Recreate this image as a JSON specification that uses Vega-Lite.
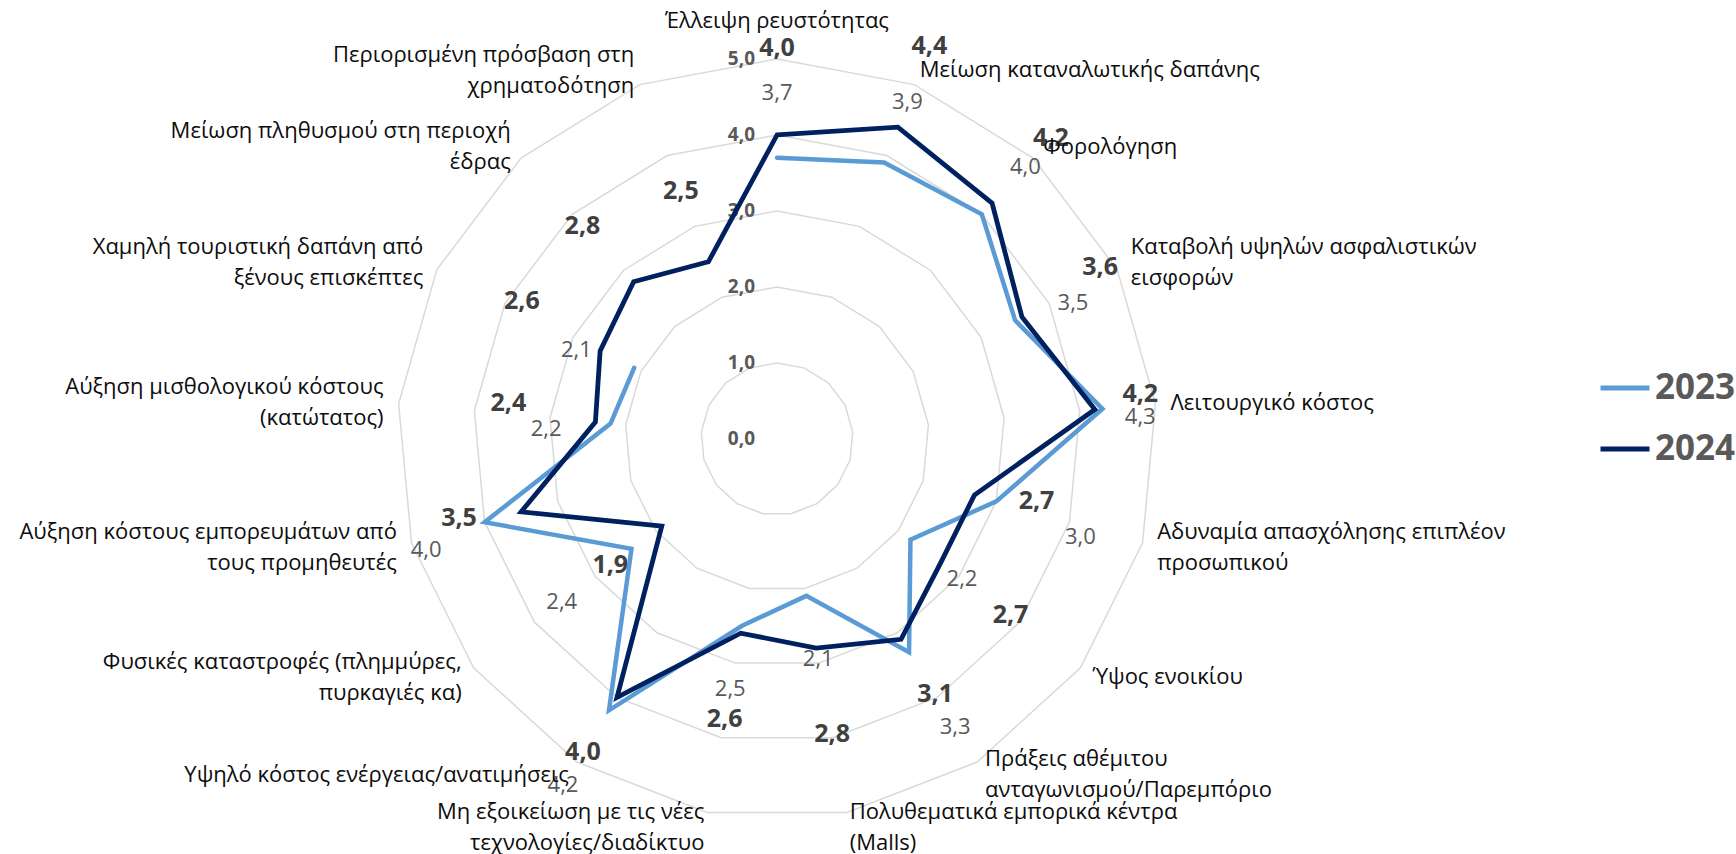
{
  "$schema": "https://vega.github.io/schema/vega-lite/v6.json",
  "width": 1736,
  "height": 854,
  "autosize": "none",
  "padding": 0,
  "background": "white",
  "config": {
    "view": {"stroke": null},
    "font": "Open Sans",
    "locale": {"number": {"decimal": ",", "thousands": ".", "grouping": [3], "currency": ["", " €"]}}
  },
  "datasets": {
    "survey": [
      {"i": 0, "cat": "Έλλειψη ρευστότητας", "v2023": 3.7, "v2024": 4.0},
      {"i": 1, "cat": "Μείωση καταναλωτικής δαπάνης", "v2023": 3.9, "v2024": 4.4},
      {"i": 2, "cat": "Φορολόγηση", "v2023": 4.0, "v2024": 4.2},
      {"i": 3, "cat": "Καταβολή υψηλών ασφαλιστικών\nεισφορών", "v2023": 3.5, "v2024": 3.6},
      {"i": 4, "cat": "Λειτουργικό κόστος", "v2023": 4.3, "v2024": 4.2},
      {"i": 5, "cat": "Αδυναμία απασχόλησης επιπλέον\nπροσωπικού", "v2023": 3.0, "v2024": 2.7},
      {"i": 6, "cat": "Ύψος ενοικίου", "v2023": 2.2, "v2024": 2.7},
      {"i": 7, "cat": "Πράξεις αθέμιτου\nανταγωνισμού/Παρεμπόριο", "v2023": 3.3, "v2024": 3.1},
      {"i": 8, "cat": "Πολυθεματικά εμπορικά κέντρα\n(Malls)", "v2023": 2.1, "v2024": 2.8},
      {"i": 9, "cat": "Μη εξοικείωση με τις νέες\nτεχνολογίες/διαδίκτυο", "v2023": 2.5, "v2024": 2.6},
      {"i": 10, "cat": "Υψηλό κόστος ενέργειας/ανατιμήσεις", "v2023": 4.2, "v2024": 4.0},
      {"i": 11, "cat": "Φυσικές καταστροφές (πλημμύρες,\nπυρκαγιές κα)", "v2023": 2.4, "v2024": 1.9},
      {"i": 12, "cat": "Αύξηση κόστους εμπορευμάτων από\nτους προμηθευτές", "v2023": 4.0, "v2024": 3.5},
      {"i": 13, "cat": "Αύξηση μισθολογικού κόστους\n(κατώτατος)", "v2023": 2.2, "v2024": 2.4},
      {"i": 14, "cat": "Χαμηλή τουριστική δαπάνη από\nξένους επισκέπτες", "v2023": 2.1, "v2024": 2.6},
      {"i": 15, "cat": "Μείωση πληθυσμού στη περιοχή\nέδρας", "v2023": null, "v2024": 2.8},
      {"i": 16, "cat": "Περιορισμένη πρόσβαση στη\nχρηματοδότηση", "v2023": null, "v2024": 2.5}
    ],
    "grid": [
      {"level": 1, "i": [0,1,2,3,4,5,6,7,8,9,10,11,12,13,14,15,16]},
      {"level": 2, "i": [0,1,2,3,4,5,6,7,8,9,10,11,12,13,14,15,16]},
      {"level": 3, "i": [0,1,2,3,4,5,6,7,8,9,10,11,12,13,14,15,16]},
      {"level": 4, "i": [0,1,2,3,4,5,6,7,8,9,10,11,12,13,14,15,16]},
      {"level": 5, "i": [0,1,2,3,4,5,6,7,8,9,10,11,12,13,14,15,16]}
    ],
    "levels": [
      {"level": 0}, {"level": 1}, {"level": 2}, {"level": 3}, {"level": 4}, {"level": 5}
    ]
  },
  "layer": [
    {
      "data": {"name": "grid"},
      "transform": [
        {"flatten": ["i"]},
        {"calculate": "datum.i * 2 * PI / 17", "as": "a"},
        {"calculate": "datum.level * sin(datum.a)", "as": "px"},
        {"calculate": "datum.level * cos(datum.a)", "as": "py"}
      ],
      "mark": {"type": "line", "interpolate": "linear-closed", "stroke": "#D9D9D9", "strokeWidth": 1.5},
      "encoding": {
        "x": {"field": "px", "type": "quantitative", "scale": {"domain": [-10.224, 12.618], "nice": false, "zero": false}, "axis": null},
        "y": {"field": "py", "type": "quantitative", "scale": {"domain": [-5.461, 5.776], "nice": false, "zero": false}, "axis": null},
        "detail": {"field": "level", "type": "nominal"},
        "order": {"field": "i", "type": "quantitative"}
      }
    },
    {
      "data": {"name": "levels"},
      "mark": {"type": "text", "align": "right", "baseline": "middle", "dx": -22, "fontSize": 19, "fontWeight": "bold", "fill": "#595959"},
      "encoding": {
        "x": {"datum": 0, "type": "quantitative", "scale": {"domain": [-10.224, 12.618], "nice": false, "zero": false}, "axis": null},
        "y": {"field": "level", "type": "quantitative", "scale": {"domain": [-5.461, 5.776], "nice": false, "zero": false}, "axis": null},
        "text": {"field": "level", "type": "quantitative", "format": ".1f"}
      }
    },
    {
      "data": {"name": "survey"},
      "transform": [
        {"filter": "isValid(datum.v2023)"},
        {"calculate": "datum.i * 2 * PI / 17", "as": "a"},
        {"calculate": "datum.v2023 * sin(datum.a)", "as": "px"},
        {"calculate": "datum.v2023 * cos(datum.a)", "as": "py"}
      ],
      "mark": {"type": "line", "strokeWidth": 4.5, "strokeCap": "round", "interpolate": "linear"},
      "encoding": {
        "x": {"field": "px", "type": "quantitative", "scale": {"domain": [-10.224, 12.618], "nice": false, "zero": false}, "axis": null},
        "y": {"field": "py", "type": "quantitative", "scale": {"domain": [-5.461, 5.776], "nice": false, "zero": false}, "axis": null},
        "order": {"field": "i", "type": "quantitative"},
        "color": {
          "datum": "2023", "type": "nominal",
          "scale": {"domain": ["2023", "2024"], "range": ["#5B9BD5", "#002060"]},
          "legend": {
            "orient": "none", "legendX": 1598, "legendY": 361, "title": null, "padding": 0,
            "symbolType": "stroke", "symbolSize": 2400, "symbolStrokeWidth": 5,
            "labelFontSize": 35, "labelFontWeight": "bold", "labelColor": "#595959", "labelFont": "Open Sans",
            "labelOffset": 3, "rowPadding": 16
          }
        }
      }
    },
    {
      "data": {"name": "survey"},
      "transform": [
        {"calculate": "datum.i * 2 * PI / 17", "as": "a"},
        {"calculate": "datum.v2024 * sin(datum.a)", "as": "px"},
        {"calculate": "datum.v2024 * cos(datum.a)", "as": "py"}
      ],
      "mark": {"type": "line", "strokeWidth": 4.8, "interpolate": "linear-closed"},
      "encoding": {
        "x": {"field": "px", "type": "quantitative", "scale": {"domain": [-10.224, 12.618], "nice": false, "zero": false}, "axis": null},
        "y": {"field": "py", "type": "quantitative", "scale": {"domain": [-5.461, 5.776], "nice": false, "zero": false}, "axis": null},
        "order": {"field": "i", "type": "quantitative"},
        "color": {"datum": "2024", "type": "nominal"}
      }
    },
    {
      "data": {"name": "survey"},
      "transform": [
        {"filter": "isValid(datum.v2023)"},
        {"calculate": "datum.i * 2 * PI / 17", "as": "a"},
        {"calculate": "abs(cos(datum.a)) < 0.5", "as": "h"},
        {"calculate": "datum.v2023 + 1 + (datum.v2023 > datum.v2024 ? 0.15 : -0.15)", "as": "r0"},
        {"calculate": "datum.h ? min(datum.r0, 4.8) : datum.r0", "as": "r"},
        {"calculate": "datum.r * sin(datum.a)", "as": "px"},
        {"calculate": "datum.r * cos(datum.a) - (datum.h ? 0.15 : 0)", "as": "py"}
      ],
      "mark": {"type": "text", "align": "center", "baseline": "middle", "fontSize": 22, "fill": "#595959"},
      "encoding": {
        "x": {"field": "px", "type": "quantitative", "scale": {"domain": [-10.224, 12.618], "nice": false, "zero": false}, "axis": null},
        "y": {"field": "py", "type": "quantitative", "scale": {"domain": [-5.461, 5.776], "nice": false, "zero": false}, "axis": null},
        "text": {"field": "v2023", "type": "quantitative", "format": ".1f"}
      }
    },
    {
      "data": {"name": "survey"},
      "transform": [
        {"calculate": "datum.i * 2 * PI / 17", "as": "a"},
        {"calculate": "abs(cos(datum.a)) < 0.5", "as": "h"},
        {"calculate": "datum.v2024 + 1 + (isValid(datum.v2023) ? (datum.v2024 > datum.v2023 ? 0.15 : -0.15) : 0)", "as": "r0"},
        {"calculate": "datum.h ? min(datum.r0, 4.8) : datum.r0", "as": "r"},
        {"calculate": "datum.r * sin(datum.a)", "as": "px"},
        {"calculate": "datum.r * cos(datum.a) + (datum.h ? 0.15 : 0)", "as": "py"}
      ],
      "mark": {"type": "text", "align": "center", "baseline": "middle", "fontSize": 25, "fontWeight": "bold", "fill": "#404040"},
      "encoding": {
        "x": {"field": "px", "type": "quantitative", "scale": {"domain": [-10.224, 12.618], "nice": false, "zero": false}, "axis": null},
        "y": {"field": "py", "type": "quantitative", "scale": {"domain": [-5.461, 5.776], "nice": false, "zero": false}, "axis": null},
        "text": {"field": "v2024", "type": "quantitative", "format": ".1f"}
      }
    },
    {
      "data": {"name": "survey"},
      "transform": [
        {"filter": "datum.i == 0"},
        {"calculate": "datum.i * 2 * PI / 17", "as": "a"},
        {"calculate": "5.5 * sin(datum.a)", "as": "px"},
        {"calculate": "5.5 * cos(datum.a)", "as": "py"}
      ],
      "mark": {"type": "text", "align": "center", "baseline": "middle", "fontSize": 22, "fill": "#0D0D0D", "lineBreak": "\n", "lineHeight": 31},
      "encoding": {
        "x": {"field": "px", "type": "quantitative", "scale": {"domain": [-10.224, 12.618], "nice": false, "zero": false}, "axis": null},
        "y": {"field": "py", "type": "quantitative", "scale": {"domain": [-5.461, 5.776], "nice": false, "zero": false}, "axis": null},
        "text": {"field": "cat", "type": "nominal"}
      }
    },
    {
      "data": {"name": "survey"},
      "transform": [
        {"filter": "datum.i >= 1 && datum.i <= 8"},
        {"calculate": "datum.i * 2 * PI / 17", "as": "a"},
        {"calculate": "5.2 * sin(datum.a)", "as": "px"},
        {"calculate": "5.2 * cos(datum.a) + (indexof(datum.cat, '\\n') >= 0 ? 0.204 : 0)", "as": "py"}
      ],
      "mark": {"type": "text", "align": "left", "baseline": "middle", "fontSize": 22, "fill": "#0D0D0D", "lineBreak": "\n", "lineHeight": 31},
      "encoding": {
        "x": {"field": "px", "type": "quantitative", "scale": {"domain": [-10.224, 12.618], "nice": false, "zero": false}, "axis": null},
        "y": {"field": "py", "type": "quantitative", "scale": {"domain": [-5.461, 5.776], "nice": false, "zero": false}, "axis": null},
        "text": {"field": "cat", "type": "nominal"}
      }
    },
    {
      "data": {"name": "survey"},
      "transform": [
        {"filter": "datum.i >= 9"},
        {"calculate": "datum.i * 2 * PI / 17", "as": "a"},
        {"calculate": "5.2 * sin(datum.a)", "as": "px"},
        {"calculate": "5.2 * cos(datum.a) + (indexof(datum.cat, '\\n') >= 0 ? 0.204 : 0)", "as": "py"}
      ],
      "mark": {"type": "text", "align": "right", "baseline": "middle", "fontSize": 22, "fill": "#0D0D0D", "lineBreak": "\n", "lineHeight": 31},
      "encoding": {
        "x": {"field": "px", "type": "quantitative", "scale": {"domain": [-10.224, 12.618], "nice": false, "zero": false}, "axis": null},
        "y": {"field": "py", "type": "quantitative", "scale": {"domain": [-5.461, 5.776], "nice": false, "zero": false}, "axis": null},
        "text": {"field": "cat", "type": "nominal"}
      }
    }
  ]
}
